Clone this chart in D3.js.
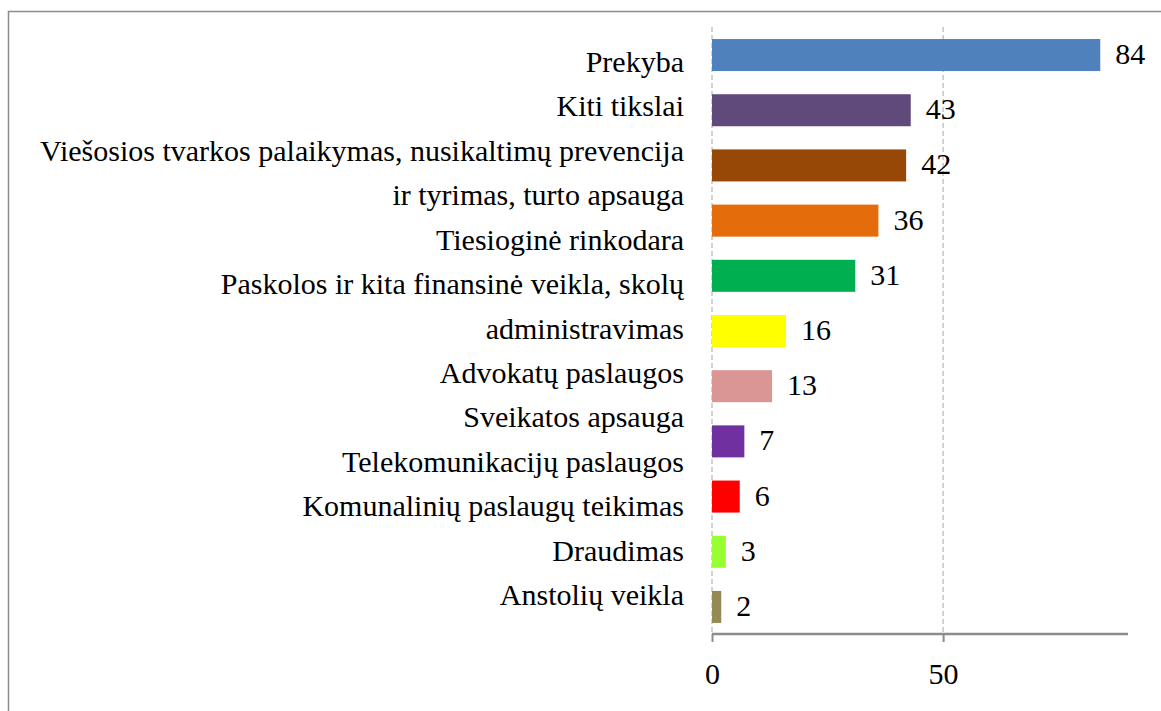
<!DOCTYPE html>
<html>
<head>
<meta charset="utf-8">
<script src="https://cdn.jsdelivr.net/npm/d3@7"></script>
<style>
  body { margin: 0; background: #fff; }
  text { font-family: "Liberation Serif", "Times New Roman", serif; fill: #000; }
</style>
</head>
<body>
<div class="canvas"></div>
<script>
// data
const categories = [
    'Prekyba', 'Kiti tikslai', 'Viešosios tvarkos', 'Tiesioginė rinkodara', 'Paskolos',
    'Advokatų paslaugos', 'Sveikatos apsauga', 'Telekomunikacijų paslaugos',
    'Komunalinių paslaugų teikimas', 'Draudimas', 'Anstolių veikla'
];
const values = [84, 43, 42, 36, 31, 16, 13, 7, 6, 3, 2];
const colors = ['#4F81BD', '#604A7B', '#974806', '#E46C0A', '#00B050', '#FFFF00',
    '#D99694', '#7030A0', '#FF0000', '#99FF33', '#948A54'];
// category axis text, as the lines are printed
const labelLines = [
    'Prekyba',
    'Kiti tikslai',
    'Viešosios tvarkos palaikymas, nusikaltimų prevencija',
    'ir tyrimas, turto apsauga',
    'Tiesioginė rinkodara',
    'Paskolos ir kita finansinė veikla, skolų',
    'administravimas',
    'Advokatų paslaugos',
    'Sveikatos apsauga',
    'Telekomunikacijų paslaugos',
    'Komunalinių paslaugų teikimas',
    'Draudimas',
    'Anstolių veikla'
];
const xTicks = [0, 50];

const dim = { width: 1161, height: 711 };
const plot = { left: 712, right: 1128, top: 28, bottom: 634 };

const svg = d3.select('.canvas').append('svg')
    .attr('width', dim.width)
    .attr('height', dim.height);

// outer frame
svg.append('rect')
    .attr('x', 8.5).attr('y', 11.5)
    .attr('width', 1300).attr('height', 900)
    .attr('fill', 'none')
    .attr('stroke', '#8c8c8c')
    .attr('stroke-width', 1.5);

const x = d3.scaleLinear().domain([0, 90]).range([plot.left, plot.right]);
const y = d3.scaleBand().domain(categories)
    .range([plot.top, plot.bottom])
    .paddingInner(0.42).paddingOuter(0.2);

// gridlines
svg.append('g').selectAll('line')
    .data(xTicks)
    .enter().append('line')
    .attr('x1', d => x(d)).attr('x2', d => x(d))
    .attr('y1', plot.top - 1).attr('y2', plot.bottom)
    .attr('stroke', '#c4c4c4')
    .attr('stroke-width', 1.5)
    .attr('stroke-dasharray', '5,3');

// bars
svg.append('g').selectAll('rect')
    .data(values)
    .enter().append('rect')
    .attr('x', x(0))
    .attr('y', (d, i) => y(categories[i]))
    .attr('width', d => x(d) - x(0))
    .attr('height', y.bandwidth())
    .attr('fill', (d, i) => colors[i]);

// value labels
svg.append('g').selectAll('text')
    .data(values)
    .enter().append('text')
    .attr('x', d => x(d) + 15)
    .attr('y', (d, i) => y(categories[i]) + y.bandwidth() / 2 + 9)
    .attr('font-size', 30)
    .text(d => d);

// x axis
const xAxis = d3.axisBottom(x).tickValues(xTicks).tickSize(8).tickPadding(21);
const axisG = svg.append('g')
    .attr('transform', `translate(0, ${plot.bottom})`)
    .call(xAxis);
axisG.select('.domain')
    .attr('d', `M${plot.left},0H${plot.right}`)
    .attr('stroke', '#8c8c8c')
    .attr('stroke-width', 2.5);
axisG.selectAll('.tick line').attr('stroke', '#8c8c8c').attr('stroke-width', 2);
axisG.selectAll('.tick text')
    .attr('font-family', '"Liberation Serif", "Times New Roman", serif')
    .attr('font-size', 30)
    .attr('fill', '#000');

// category labels, spaced evenly line by line
const lineY = d3.scaleLinear().domain([0, labelLines.length - 1]).range([65, 598]);
svg.append('g').selectAll('text')
    .data(labelLines)
    .enter().append('text')
    .attr('x', 684)
    .attr('y', (d, i) => lineY(i) + 7)
    .attr('text-anchor', 'end')
    .attr('font-size', 30)
    .text(d => d);
</script>
</body>
</html>
